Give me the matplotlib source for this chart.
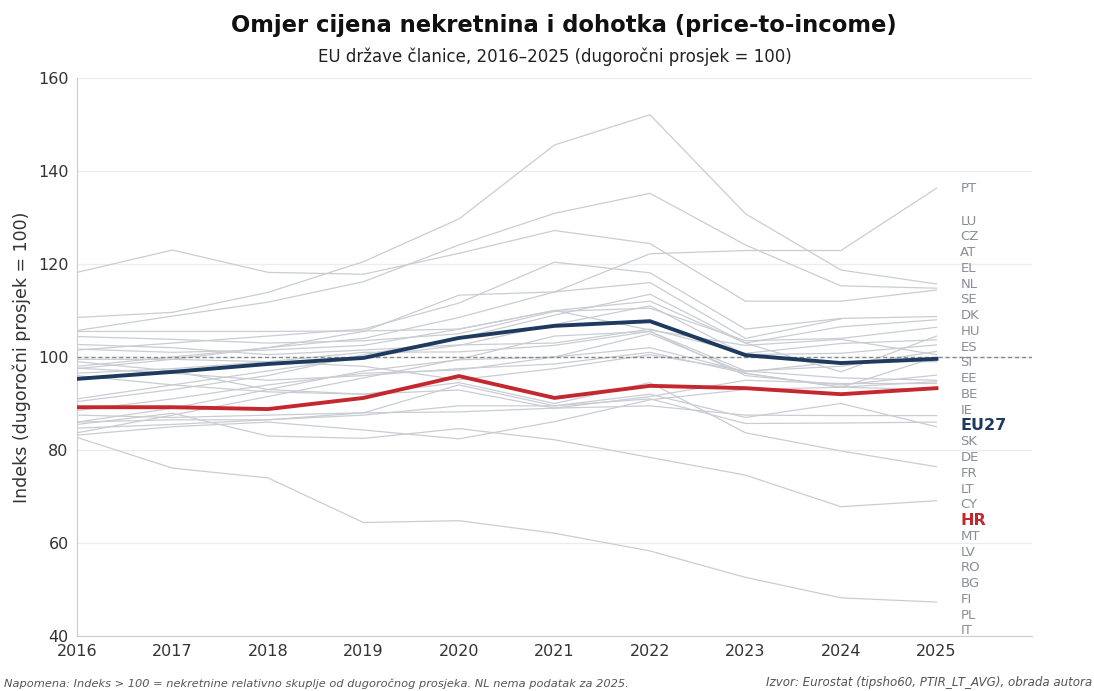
import numpy as np
import matplotlib
matplotlib.use('Agg')
import matplotlib.pyplot as plt

# years and index values (long-term average = 100)
years = list(range(2016, 2026))

countries = ['PT', 'LU', 'CZ', 'AT', 'EL', 'NL', 'SE', 'DK', 'HU', 'ES', 'SI', 'EE', 'BE',
             'IE', 'SK', 'DE', 'FR', 'LT', 'CY', 'MT', 'LV', 'RO', 'BG', 'FI', 'PL', 'IT']

pt = [98.0, 100.0, 102.0, 104.0, 108.5, 114.0, 122.2, 122.9, 122.9, 136.3]
lu = [108.5, 109.6, 113.9, 120.5, 129.7, 145.6, 152.1, 130.8, 118.7, 115.7]
cz = [105.7, 108.8, 111.8, 116.2, 124.1, 130.9, 135.2, 124.1, 115.3, 114.8]
at = [118.2, 123.0, 118.2, 117.8, 122.3, 127.2, 124.4, 112.0, 112.0, 114.4]
el = [101.5, 103.0, 104.5, 106.0, 111.6, 120.4, 118.1, 106.0, 108.3, 108.7]
nl = [97.5, 99.5, 102.0, 105.5, 113.3, 114.0, 116.0, 104.0, 108.2, np.nan]
se = [105.5, 105.5, 105.5, 105.6, 106.0, 110.0, 112.0, 103.0, 106.5, 108.0]
dk = [104.4, 103.8, 103.0, 103.5, 105.0, 109.8, 110.5, 103.5, 104.0, 106.4]
hu = [90.4, 93.0, 96.0, 100.5, 104.0, 109.0, 113.5, 103.0, 96.8, 104.5]
es = [102.7, 102.0, 100.5, 101.5, 102.6, 103.0, 106.0, 100.8, 102.9, 103.7]
si = [91.0, 94.0, 97.0, 100.0, 102.5, 107.0, 111.0, 100.5, 100.8, 102.6]
ee = [96.5, 97.5, 99.0, 101.0, 101.1, 102.5, 105.5, 97.0, 98.0, 101.2]
be = [101.7, 101.0, 101.5, 102.5, 106.0, 110.0, 105.8, 102.5, 103.8, 100.5]
ie = [86.0, 89.0, 93.0, 97.0, 99.4, 100.0, 105.0, 96.5, 93.5, 100.0]
sk = [88.5, 91.0, 94.0, 96.5, 97.2, 100.0, 102.0, 96.8, 99.0, 99.0]
de = [83.7, 87.5, 91.5, 95.5, 99.5, 104.5, 105.5, 96.0, 94.0, 96.1]
fr = [99.5, 99.5, 99.0, 98.0, 95.1, 97.5, 100.5, 97.0, 95.5, 95.0]
lt = [97.6, 96.5, 95.0, 96.0, 97.5, 98.5, 101.0, 96.5, 93.5, 94.7]
cy = [99.0, 97.0, 93.0, 92.0, 92.9, 89.0, 91.5, 95.0, 94.3, 94.3]
mt = [83.2, 85.0, 86.0, 84.3, 82.4, 86.1, 90.8, 93.0, 93.5, 93.0]
lv = [87.5, 87.0, 87.5, 88.0, 88.2, 89.0, 89.5, 87.5, 87.4, 87.4]
ro = [86.0, 86.5, 86.5, 87.5, 89.5, 89.5, 91.0, 85.7, 85.8, 86.0]
bg = [84.7, 85.5, 86.5, 88.0, 94.0, 89.5, 92.0, 87.0, 90.0, 85.0]
fi = [96.0, 94.0, 92.5, 92.0, 94.5, 90.0, 94.5, 83.7, 79.8, 76.4]
pl = [85.5, 87.9, 83.0, 82.5, 84.6, 82.2, 78.4, 74.6, 67.8, 69.1]
it = [82.7, 76.1, 74.0, 64.4, 64.8, 62.1, 58.3, 52.6, 48.2, 47.3]

eu27 = [95.3, 96.8, 98.5, 99.8, 104.1, 106.7, 107.7, 100.4, 98.7, 99.6]
hr = [89.2, 89.2, 88.8, 91.2, 95.9, 91.2, 93.8, 93.3, 92.0, 93.3]

series = [pt, lu, cz, at, el, nl, se, dk, hu, es, si, ee, be,
          ie, sk, de, fr, lt, cy, mt, lv, ro, bg, fi, pl, it]

GRAY = '#c9cdd3'
NAVY = '#1f3a5f'
RED = '#c4282e'
LABEL_GRAY = '#8a8f96'

fig = plt.figure(figsize=(10.94, 6.91), dpi=100)
ax = fig.add_axes([0.0704, 0.0796, 0.8729, 0.8075])

for vals in series:
    ax.plot(years, vals, color=GRAY, lw=0.9, zorder=2)

ax.axhline(100, color='#888888', lw=1.0, ls=(0, (3, 2)), zorder=3)
ax.plot(years, eu27, color=NAVY, lw=2.8, zorder=5)
ax.plot(years, hr, color=RED, lw=2.8, zorder=6)

# right-side labels, sorted by last available value, pushed apart
def last_val(v):
    v = np.asarray(v, dtype=float)
    return v[~np.isnan(v)][-1]

items = [(c, last_val(v)) for c, v in zip(countries, series)]
items.append(('EU27', last_val(eu27)))
items.append(('HR', last_val(hr)))
items.sort(key=lambda t: -t[1])

gap = 3.39
floor = 41.1
pos = []
for i, (name, v) in enumerate(items):
    y = v if i == 0 else min(v, pos[-1] - gap)
    pos.append(y)
pos[-1] = max(pos[-1], floor)
for i in range(len(pos) - 2, -1, -1):
    pos[i] = max(pos[i], pos[i + 1] + gap)

for (name, v), y in zip(items, pos):
    if name == 'EU27':
        ax.text(2025.25, y, name, color=NAVY, fontsize=11.5, fontweight='bold', va='center', ha='left')
    elif name == 'HR':
        ax.text(2025.25, y, name, color=RED, fontsize=11.5, fontweight='bold', va='center', ha='left')
    else:
        ax.text(2025.25, y, name, color=LABEL_GRAY, fontsize=9.5, va='center', ha='left')

ax.set_xlim(2016, 2026)
ax.set_ylim(40, 160)
ax.set_xticks(years)
ax.set_yticks(range(40, 161, 20))
ax.tick_params(length=0, labelsize=11.5, colors='#333333', pad=6)
ax.grid(axis='y', color='#ececec', lw=0.9)
ax.set_axisbelow(True)
for s in ['top', 'right']:
    ax.spines[s].set_visible(False)
for s in ['left', 'bottom']:
    ax.spines[s].set_color('#cccccc')

ax.set_ylabel('Indeks (dugoročni prosjek = 100)', fontsize=12.5, color='#333333', labelpad=5)

fig.text(0.515, 0.963, 'Omjer cijena nekretnina i dohotka (price-to-income)',
         ha='center', va='center', fontsize=16.3, fontweight='bold', color='#111111')
fig.text(0.507, 0.918, 'EU države članice, 2016–2025 (dugoročni prosjek = 100)',
         ha='center', va='center', fontsize=12, color='#222222')

fig.text(0.004, 0.003, 'Napomena: Indeks > 100 = nekretnine relativno skuplje od dugoročnog prosjeka. NL nema podatak za 2025.',
         ha='left', va='bottom', fontsize=8.2, style='italic', color='#555555')
fig.text(0.998, 0.003, 'Izvor: Eurostat (tipsho60, PTIR_LT_AVG), obrada autora',
         ha='right', va='bottom', fontsize=8.6, style='italic', color='#555555')

fig.savefig('out.png', dpi=100)
